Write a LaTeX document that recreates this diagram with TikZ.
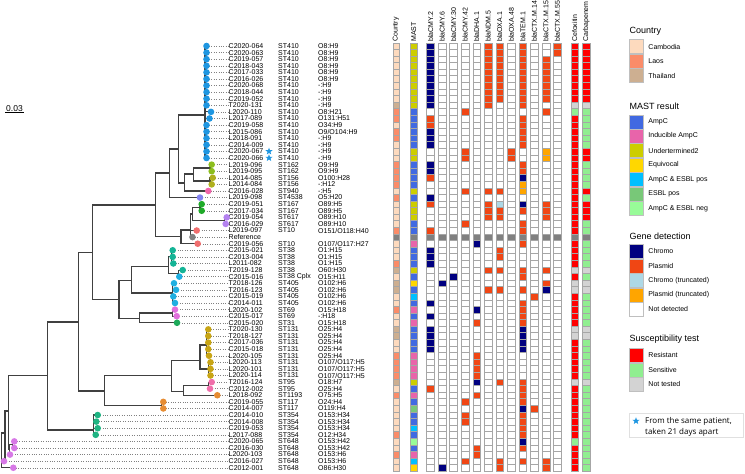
\documentclass[tikz,border=0pt]{standalone}
\usepackage{fontspec}
\setmainfont{Liberation Sans}
\newfontfamily\notefont{Open Sans}
\usetikzlibrary{shapes.geometric,backgrounds}

% country / MAST colours
\definecolor{cam}{RGB}{253,218,190}
\definecolor{lao}{RGB}{250,140,105}
\definecolor{tha}{RGB}{205,175,145}
\definecolor{refg}{RGB}{128,128,128}
\definecolor{ampc}{RGB}{65,105,225}
\definecolor{indu}{RGB}{232,100,170}
\definecolor{und}{RGB}{205,205,0}
\definecolor{equi}{RGB}{255,215,0}
\definecolor{apos}{RGB}{0,191,255}
\definecolor{epos}{RGB}{120,200,120}
\definecolor{aneg}{RGB}{152,251,152}
% gene / susceptibility colours
\definecolor{chromo}{RGB}{0,0,128}
\definecolor{plas}{RGB}{240,70,20}
\definecolor{chromot}{RGB}{173,216,230}
\definecolor{plast}{RGB}{255,165,0}
\definecolor{resi}{RGB}{255,0,0}
\definecolor{sens}{RGB}{144,238,144}
\definecolor{nott}{RGB}{211,211,211}
% tip colours
\definecolor{c410}{RGB}{30,150,225}
\definecolor{c162}{RGB}{140,190,30}
\definecolor{c156}{RGB}{175,175,30}
\definecolor{c940}{RGB}{240,100,170}
\definecolor{c4538}{RGB}{130,130,240}
\definecolor{c167}{RGB}{30,170,40}
\definecolor{c617}{RGB}{180,130,240}
\definecolor{c10}{RGB}{240,110,110}
\definecolor{c38}{RGB}{20,180,150}
\definecolor{c405}{RGB}{30,175,225}
\definecolor{c69}{RGB}{225,110,220}
\definecolor{c31}{RGB}{30,170,90}
\definecolor{c131}{RGB}{200,165,20}
\definecolor{c95}{RGB}{240,110,170}
\definecolor{c1193}{RGB}{230,140,50}
\definecolor{c354}{RGB}{30,180,130}
\definecolor{c648}{RGB}{215,120,230}

\tikzset{
  branch/.style={black!75, line width=1.1pt},
  leader/.style={gray, dotted, line width=0.4pt},
  tipdot/.style={circle, inner sep=0pt, minimum size=6.6pt},
  lab/.style={inner sep=0pt, anchor=west, font=\fontsize{7}{8}\selectfont},
  hdr/.style={inner sep=0pt, rotate=90, anchor=west, font=\fontsize{7}{8}\selectfont},
  cell/.style={draw=black!35, line width=0.35pt, fill=white},
  swatch/.style={draw=black!25, line width=0.3pt},
  legtitle/.style={inner sep=0pt, anchor=west, font=\fontsize{9}{10}\selectfont},
  samestar/.style={star, star points=5, star point ratio=2.4, fill=c410, inner sep=0pt, minimum size=7.5pt}
}

\begin{document}
\begin{tikzpicture}[x=1pt, y=-1pt]
\useasboundingbox (0,0) rectangle (745,474);

% tips, labels, country and MAST cells
\foreach \i/\x/\c/\nm/\st/\so/\co/\ma in {
  1/206.5/c410/C2020-064/ST410/O8:H9/cam/und,
  2/206.5/c410/C2020-063/ST410/O8:H9/cam/und,
  3/206.5/c410/C2019-057/ST410/O8:H9/cam/und,
  4/206.5/c410/C2018-043/ST410/O8:H9/cam/und,
  5/206.5/c410/C2017-033/ST410/O8:H9/cam/und,
  6/206.5/c410/C2016-026/ST410/O8:H9/cam/und,
  7/206.5/c410/C2020-068/ST410/-:H9/cam/und,
  8/206.5/c410/C2018-044/ST410/-:H9/cam/und,
  9/206.5/c410/C2019-052/ST410/-:H9/cam/und,
  10/206.5/c410/T2020-131/ST410/-:H9/tha/und,
  11/211/c410/L2020-110/ST410/O8:H21/lao/ampc,
  12/209.5/c410/L2017-089/ST410/O131:H51/lao/ampc,
  13/206.5/c410/C2019-058/ST410/O34:H9/cam/ampc,
  14/206.5/c410/L2015-086/ST410/{O9/O104:H9}/lao/ampc,
  15/206.5/c410/L2018-091/ST410/-:H9/lao/ampc,
  16/206.5/c410/C2014-009/ST410/-:H9/cam/ampc,
  17/206.5/c410/C2020-067/ST410/-:H9/cam/und,
  18/206.5/c410/C2020-066/ST410/-:H9/cam/und,
  19/211.7/c162/L2019-096/ST162/O9:H9/lao/ampc,
  20/211.7/c162/L2019-095/ST162/O9:H9/lao/ampc,
  21/212.7/c156/L2014-085/ST156/O100:H28/lao/ampc,
  22/211.7/c156/L2014-084/ST156/-:H12/lao/ampc,
  23/208.3/c940/C2016-028/ST940/-:H5/cam/und,
  24/200/c4538/L2019-098/ST4538/O5:H20/lao/ampc,
  25/201.7/c167/C2019-051/ST167/O89:H5/cam/und,
  26/201.7/c167/C2017-034/ST167/O89:H5/cam/und,
  27/226.7/c617/C2019-054/ST617/O89:H10/cam/und,
  28/225.7/c617/C2016-029/ST617/O89:H10/cam/ampc,
  29/196.7/c10/L2019-097/ST10/{O151/O118:H40}/lao/ampc,
  30/192.5/refg/Reference/{}/{}/refg/refg,
  31/197.7/c10/C2019-056/ST10/{O107/O117:H27}/cam/indu,
  32/172.7/c38/C2015-021/ST38/O1:H15/cam/ampc,
  33/172.7/c38/C2013-004/ST38/O1:H15/cam/ampc,
  34/173.3/c38/L2011-082/ST38/O1:H15/lao/ampc,
  35/182.7/c38/T2019-128/ST38/O60:H30/tha/und,
  36/179.3/c405/C2015-016/ST38 Cplx/O15:H11/cam/ampc,
  37/174/c405/T2018-126/ST405/O102:H6/tha/equi,
  38/176/c405/T2016-123/ST405/O102:H6/tha/ampc,
  39/173.3/c405/C2015-019/ST405/O102:H6/cam/apos,
  40/175/c405/C2014-011/ST405/O102:H6/cam/ampc,
  41/175/c69/L2020-102/ST69/O15:H18/lao/indu,
  42/176.7/c69/C2015-017/ST69/-:H18/cam/ampc,
  43/177/c31/C2015-020/ST31/O15:H18/cam/indu,
  44/208.3/c131/T2020-130/ST131/O25:H4/tha/ampc,
  45/208.3/c131/T2018-127/ST131/O25:H4/tha/ampc,
  46/208.3/c131/C2017-036/ST131/O25:H4/cam/ampc,
  47/208.3/c131/C2015-018/ST131/O25:H4/cam/ampc,
  48/209/c131/L2020-105/ST131/O25:H4/lao/indu,
  49/210.5/c131/L2020-113/ST131/{O107/O117:H5}/lao/indu,
  50/210.5/c131/L2020-101/ST131/{O107/O117:H5}/lao/indu,
  51/210.5/c131/L2020-114/ST131/{O107/O117:H5}/lao/indu,
  52/211.7/c95/T2016-124/ST95/O18:H7/tha/und,
  53/210/c95/C2012-002/ST95/O25:H4/cam/ampc,
  54/217.3/c1193/L2018-092/ST1193/O75:H5/lao/indu,
  55/163.3/c1193/C2019-055/ST117/O24:H4/cam/ampc,
  56/163.3/c1193/C2014-007/ST117/O119:H4/cam/epos,
  57/97.7/c354/C2014-010/ST354/O153:H34/cam/ampc,
  58/96.3/c354/C2014-008/ST354/O153:H34/cam/ampc,
  59/97.7/c354/C2019-053/ST354/O153:H34/cam/apos,
  60/95.7/c354/L2017-088/ST354/O12:H34/lao/ampc,
  61/14.3/c648/C2020-065/ST648/O153:H42/cam/aneg,
  62/14.3/c648/C2016-030/ST648/O153:H42/cam/ampc,
  63/10/c648/L2020-103/ST648/O153:H6/lao/indu,
  64/4/c648/C2016-027/ST648/O153:H6/cam/apos,
  65/13.3/c648/C2012-001/ST648/O86:H30/cam/equi}
{
  \pgfmathsetmacro{\y}{46+6.59*(\i-1)}
  \coordinate (t\i) at (\x,\y);
  \node[lab] (lab\i) at (228.5,\y) {\nm};
  \node[lab] at (278,\y) {\st};
  \node[lab] at (318,\y) {\so};
  \draw[leader] (t\i) -- (lab\i.west);
  \node[tipdot, fill=\c] at (t\i) {};
  \draw[cell, fill=\co] (392.7,\y-3.3) rectangle (399.3,\y+3.3);
  \draw[cell, fill=\ma] (410,\y-3.3) rectangle (417.3,\y+3.3);
}

% same patient
\node[samestar] at (269,151.4) {};
\node[samestar] at (269,158) {};

% tree (inner nodes)
\coordinate (n410) at (205,115);
\coordinate (n162) at (210,168);
\coordinate (n156) at (210,181);
\coordinate (nC) at (193.3,174);
\coordinate (nB) at (184.3,183);
\coordinate (nA) at (178.7,149);
\coordinate (nD) at (169.3,173);
\coordinate (n167) at (200,207.5);
\coordinate (n617) at (224.5,220.6);
\coordinate (nS) at (192.5,214);
\coordinate (nR) at (190.7,230);
\coordinate (nE) at (181,236.7);
\coordinate (nF) at (155.7,205);
\coordinate (n38) at (171.5,256.9);
\coordinate (nP35) at (178.3,273.4);
\coordinate (nI) at (168.3,266.7);
\coordinate (n405) at (172.5,293);
\coordinate (nH) at (131.7,280.7);
\coordinate (n69) at (172.5,313);
\coordinate (nJ) at (139.3,318.3);
\coordinate (nG) at (119,299.5);
\coordinate (nK1) at (92.3,252.5);
\coordinate (nO25) at (206.5,345);
\coordinate (nO107) at (208.5,369);
\coordinate (n131) at (200,360.7);
\coordinate (n95) at (208.5,385.4);
\coordinate (nN95) at (183.7,391.3);
\coordinate (nM) at (171.7,375.7);
\coordinate (n117) at (161.5,405.2);
\coordinate (nL) at (104.3,391);
\coordinate (nK) at (78.3,322);
\coordinate (n354) at (93.3,430);
\coordinate (nO) at (47.7,375.8);
\coordinate (n61) at (12.3,444.7);
\coordinate (nU) at (9.5,449.7);
\coordinate (nP) at (8.3,411);
\coordinate (nQ) at (5,433);
\coordinate (nRoot) at (1.5,450);

\begin{scope}[on background layer]
\foreach \p/\q in {n410/t1,n410/t2,n410/t3,n410/t4,n410/t5,n410/t6,n410/t7,n410/t8,n410/t9,
  n410/t10,n410/t11,n410/t12,n410/t13,n410/t14,n410/t15,n410/t16,n410/t17,n410/t18,
  n162/t19,n162/t20,n156/t21,n156/t22,nC/n162,nC/n156,nB/nC,nB/t23,nA/n410,nA/nB,
  nD/nA,nD/t24,n167/t25,n167/t26,n617/t27,n617/t28,nS/n167,nS/n617,
  nR/nS,nR/t29,nR/t30,nE/nR,nE/t31,nF/nD,nF/nE,
  n38/t32,n38/t33,n38/t34,nP35/t35,nP35/t36,nI/n38,nI/nP35,
  n405/t37,n405/t38,n405/t39,n405/t40,nH/nI,nH/n405,
  n69/t41,n69/t42,nJ/n69,nJ/t43,nG/nH,nG/nJ,nK1/nF,nK1/nG,
  nO25/t44,nO25/t45,nO25/t46,nO25/t47,nO25/t48,nO107/t49,nO107/t50,nO107/t51,
  n131/nO25,n131/nO107,n95/t52,n95/t53,nN95/n95,nN95/t54,nM/n131,nM/nN95,
  n117/t55,n117/t56,nL/nM,nL/n117,nK/nK1,nK/nL,
  n354/t57,n354/t58,n354/t59,n354/t60,nO/nK,nO/n354,
  n61/t61,n61/t62,nU/n61,nU/t63,nP/nO,nP/nU,nQ/nP,nQ/t64,nRoot/nQ,nRoot/t65}
  \draw[branch] (\p) |- (\q);
\end{scope}

% scale bar
\node[inner sep=0.6pt, anchor=south, font=\fontsize{8.5}{9}\selectfont] (scl) at (14.5,112.5) {0.03};
\draw[line width=0.5pt] (scl.south west) -- (scl.south east);

% heatmap headers
\foreach \x/\t in {396/Country,413.7/MAST,430.5/blaCMY.2,442/blaCMY.6,453.6/blaCMY.30,
  465.1/blaCMY.42,476.7/blaDHA.1,488.2/blaNDM.5,499.7/blaOXA.1,511.3/blaOXA.48,
  522.8/blaTEM.1,534.3/blaCTX.M.14,545.9/blaCTX.M.15,557.4/blaCTX.M.55,
  574.5/Cefoxitin,586.2/Carbapenem}
  \node[hdr] at (\x,42) {\t};

% gene grid
\foreach \i in {1,...,65}
  \foreach \k in {0,...,11}
    \draw[cell] ({430.5+11.53*\k-3.9},{42.7+6.59*(\i-1)}) rectangle ++(7.8,6.59);

% gene hits: column/first row/last row/colour
\foreach \k/\a/\b/\c in {
  0/1/10/chromo,0/12/13/plas,0/14/16/chromo,0/19/20/chromo,0/21/21/plas,0/24/24/chromo,
  0/25/25/plas,0/29/29/plas,0/32/34/chromo,0/40/40/chromo,0/42/42/chromo,0/44/47/chromo,
  0/53/53/plas,
  1/37/37/chromo,1/65/65/chromo,
  2/36/36/chromo,
  3/11/11/plas,3/17/18/plas,3/23/23/plas,3/28/28/plas,3/55/55/plas,3/57/58/plas,3/64/64/plas,
  4/31/31/chromo,4/41/41/chromo,4/43/43/plas,4/48/51/plas,4/52/52/chromo,4/54/54/plas,
  4/62/63/plas,
  5/1/10/plas,5/23/23/plas,5/25/27/plas,5/35/35/plas,5/38/38/plas,
  6/1/9/plas,6/23/23/plas,6/25/25/chromot,6/26/27/plas,6/32/33/plas,6/35/35/plas,
  6/38/38/plas,6/52/52/plas,6/64/65/plas,
  7/17/18/plas,
  8/1/10/plas,8/12/16/plas,8/19/20/plas,8/21/21/chromo,8/22/23/plast,8/25/25/chromo,
  8/26/26/plas,8/28/29/plas,8/31/31/plas,8/35/36/plas,8/38/38/plas,8/40/43/plas,
  8/44/47/chromo,8/52/55/plas,8/56/56/chromo,8/57/60/plas,8/61/61/chromo,8/62/62/plas,
  8/64/64/plas,
  9/39/39/plas,9/56/56/plas,
  10/3/9/plas,10/11/11/plas,10/17/18/plast,10/25/27/plas,10/35/35/plas,10/37/37/plas,
  10/38/38/chromo,10/64/65/plas,
  11/1/2/plas,
  0/30/30/refg,1/30/30/refg,2/30/30/refg,3/30/30/refg,4/30/30/refg,5/30/30/refg,
  6/30/30/refg,7/30/30/refg,8/30/30/refg,9/30/30/refg,10/30/30/refg,11/30/30/refg}
  \foreach \i in {\a,...,\b}
    \draw[cell, fill=\c] ({430.5+11.53*\k-3.9},{42.7+6.59*(\i-1)}) rectangle ++(7.8,6.59);

% susceptibility: x/first row/last row/colour
\foreach \x/\a/\b/\c in {
  574.5/1/9/resi,574.5/10/10/nott,574.5/11/11/sens,574.5/12/29/resi,574.5/30/30/refg,
  574.5/31/34/resi,574.5/35/35/nott,574.5/36/36/resi,574.5/37/38/nott,574.5/39/43/resi,
  574.5/44/45/nott,574.5/46/51/resi,574.5/52/52/nott,574.5/53/60/resi,574.5/61/61/sens,
  574.5/62/65/resi,
  586.2/1/9/resi,586.2/10/10/nott,586.2/11/16/sens,586.2/17/18/resi,586.2/19/22/sens,
  586.2/23/23/resi,586.2/24/24/sens,586.2/25/27/resi,586.2/28/29/sens,586.2/30/30/refg,
  586.2/31/34/sens,586.2/35/35/nott,586.2/36/36/sens,586.2/37/38/nott,586.2/39/43/sens,
  586.2/44/45/nott,586.2/46/51/sens,586.2/52/52/nott,586.2/53/65/sens}
  \foreach \i in {\a,...,\b}
    \draw[cell, fill=\c] (\x-3.8,{42.7+6.59*(\i-1)}) rectangle ++(7.6,6.59);

% legend
\node[legtitle] at (629.3,31) {Country};
\foreach \n/\c/\t in {0/cam/Cambodia,1/lao/Laos,2/tha/Thailand}
  \draw[swatch, fill=\c] (629.3,39.5+14.5*\n) rectangle ++(14,14)
    node[lab, pos=0.5, xshift=12pt] {\t};
\node[legtitle] at (629.3,106) {MAST result};
\foreach \n/\c/\t in {0/ampc/AmpC,1/indu/Inducible AmpC,2/und/Undertermined2,3/equi/Equivocal,
  4/apos/AmpC \& ESBL pos,5/epos/ESBL pos,6/aneg/AmpC \& ESBL neg}
  \draw[swatch, fill=\c] (629.3,114.7+14.43*\n) rectangle ++(14,14)
    node[lab, pos=0.5, xshift=12pt] {\t};
\node[legtitle] at (629.3,236) {Gene detection};
\foreach \n/\c/\t in {0/chromo/Chromo,1/plas/Plasmid,2/chromot/Chromo (truncated),
  3/plast/Plasmid (truncated),4/white/Not detected}
  \draw[swatch, fill=\c] (629.3,244.3+14.5*\n) rectangle ++(14,14)
    node[lab, pos=0.5, xshift=12pt] {\t};
\node[legtitle] at (629.3,339) {Susceptibility test};
\foreach \n/\c/\t in {0/resi/Resistant,1/sens/Sensitive,2/nott/Not tested}
  \draw[swatch, fill=\c] (629.3,348.3+14.5*\n) rectangle ++(14,14)
    node[lab, pos=0.5, xshift=12pt] {\t};

% note box
\draw[black!12, line width=0.4pt] (629.3,412.7) rectangle (743.5,437.3);
\node[samestar] (nstar) at (636,421) {};
\node[inner sep=0pt, anchor=west, font=\notefont\fontsize{8}{9}\selectfont] (note1) at (645,421) {From the same patient,};
\node[inner sep=0pt, anchor=west, font=\notefont\fontsize{8}{9}\selectfont] (note2) at (645,432) {taken 21 days apart};
\end{tikzpicture}
\end{document}
